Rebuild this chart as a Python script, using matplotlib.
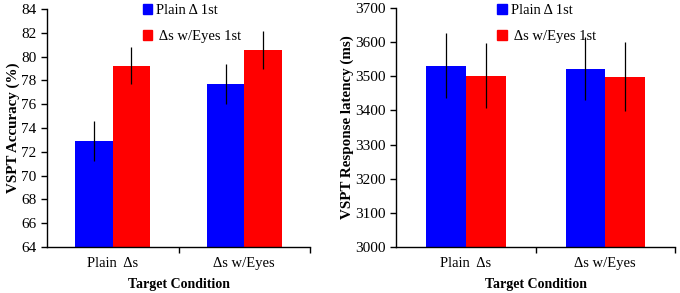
import numpy as np
import matplotlib.pyplot as plt
from matplotlib.patches import Patch

# data
conditions = ['Plain  \u0394s', '\u0394s w/Eyes']
series = ['Plain \u0394 1st', ' \u0394s w/Eyes 1st']
colors = ['#0000ff', '#ff0000']

acc_plain1st = [72.9, 77.7]
acc_eyes1st = [79.25, 80.55]
acc_plain1st_err = [1.65, 1.7]
acc_eyes1st_err = [1.55, 1.6]

lat_plain1st = [3531, 3522]
lat_eyes1st = [3501, 3499]
lat_plain1st_err = [96, 92]
lat_eyes1st_err = [95, 100]

plt.rcParams['font.family'] = ['Liberation Serif', 'DejaVu Serif']

fig = plt.figure(figsize=(6.8, 2.93), dpi=100)
ax1 = fig.add_axes([0.0691, 0.157, 0.3868, 0.812])
ax2 = fig.add_axes([0.5824, 0.157, 0.4103, 0.816])

x = np.arange(len(conditions))
w = 0.285


def draw(ax, v1, v2, e1, e2, ylim, yticks, ylabel, leg_x):
    ax.bar(x - w / 2, v1, w, color=colors[0], zorder=2)
    ax.bar(x + w / 2, v2, w, color=colors[1], zorder=2)
    ax.errorbar(x - w / 2, v1, yerr=e1, fmt='none', ecolor='black', elinewidth=0.9, capsize=0, zorder=3)
    ax.errorbar(x + w / 2, v2, yerr=e2, fmt='none', ecolor='black', elinewidth=0.9, capsize=0, zorder=3)
    ax.set_xlim(-0.5, 1.5)
    ax.set_ylim(*ylim)
    ax.set_yticks(yticks)
    ax.set_xticks(x)
    ax.set_xticklabels(conditions)
    ax.set_xticks([0.5, 1.5], minor=True)
    ax.tick_params(axis='x', which='major', length=0, labelsize=10.5, pad=7)
    ax.tick_params(axis='x', which='minor', length=4, direction='out', width=1)
    ax.tick_params(axis='y', length=4, direction='out', width=1, labelsize=11)
    for s in ['top', 'right']:
        ax.spines[s].set_visible(False)
    for s in ['left', 'bottom']:
        ax.spines[s].set_linewidth(1)
    ax.set_ylabel(ylabel, fontsize=10.8, fontweight='bold', labelpad=1)
    ax.set_xlabel('Target Condition', fontsize=10, fontweight='bold', labelpad=6)
    handles = [Patch(color=c) for c in colors]
    ax.legend(handles, series, loc='upper left', bbox_to_anchor=(leg_x, 1.012),
              bbox_transform=fig.transFigure, frameon=False, fontsize=10.5,
              handlelength=0.65, handleheight=0.65, handletextpad=0.3, labelspacing=0.9,
              borderpad=0)


draw(ax1, acc_plain1st, acc_eyes1st, acc_plain1st_err, acc_eyes1st_err,
     (64, 84), np.arange(64, 85, 2), 'VSPT Accuracy (%)', 0.199)
draw(ax2, lat_plain1st, lat_eyes1st, lat_plain1st_err, lat_eyes1st_err,
     (3000, 3700), np.arange(3000, 3701, 100), 'VSPT Response latency (ms)', 0.7206)

fig.savefig('out.png', dpi=100)
